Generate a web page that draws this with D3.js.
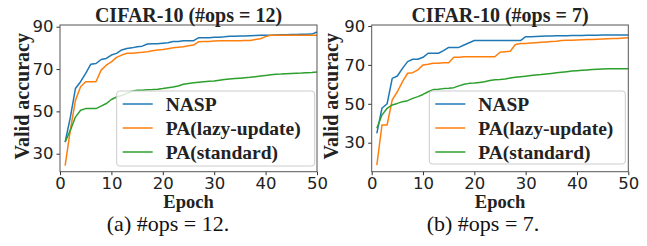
<!DOCTYPE html>
<html><head><meta charset="utf-8">
<script src="https://cdn.jsdelivr.net/npm/d3@7"></script>
<style>body{margin:0;background:#fff}svg{display:block}</style>
</head><body>
<svg id="c" width="647" height="246"></svg>
<script>
const epochs = d3.range(1, 51);
const seriesNames = ["NASP", "PA(lazy-update)", "PA(standard)"];
const colors = ["#1f77b4", "#ff7f0e", "#2ca02c"];
const xTicks = [0, 10, 20, 30, 40, 50];
const yTicks = [30, 50, 70, 90];

const titles = ["CIFAR-10 (#ops = 12)", "CIFAR-10 (#ops = 7)"];
const captions = ["(a) #ops = 12.", "(b) #ops = 7."];

// Panel (a) #ops = 12
const naspA = [35.5,47,60.8,64,68,72.3,72.6,74.5,75,76.6,77.4,79,79.7,80,80.5,80.8,81.8,82,82,82.2,82.4,83,83,83.4,83.4,83.4,84.8,84.8,84.8,85,85,85.2,85.5,85.5,85.6,85.6,85.7,85.8,85.9,86,86,86.1,86.2,86.2,86.3,86.3,86.4,86.4,86.5,87.5];
const lazyA = [24.4,41,55.2,61.6,64,64,64,69.5,71.8,73.4,75.5,76.6,77.4,77.4,77.7,77.9,78.2,78.6,79,79.2,79.6,80,80.3,80.5,81,81.3,82.9,83,83,83.2,83.4,83.4,83.4,83.4,83.4,83.5,83.5,84,84.3,85.3,86,86,86,86,86,86,86,86,86,86];
const stdA  = [35.5,41,47.3,50.5,51.3,51.3,51.3,52.5,53.7,55.6,56.8,57.5,58.5,59.5,60,60,60.2,60.3,60.5,60.8,61.2,61.5,62,62.8,63.2,63.5,63.8,64,64.2,64.4,64.7,65,65.3,65.5,65.7,65.9,66.1,66.4,66.7,67,67.3,67.5,67.6,67.8,67.9,68,68.1,68.3,68.4,68.6];

// Panel (b) #ops = 7
const naspB = [34.8,47.7,50,63.1,64.3,68.2,71.7,72.9,72.9,73.9,76,76,76,77.3,79,79,79,80.2,81.4,82.5,82.5,82.5,82.5,82.5,82.5,82.5,82.5,82.5,82.5,84.5,84.5,84.6,84.7,84.8,84.9,85,85,85,85.1,85.1,85.1,85.2,85.2,85.2,85.3,85.3,85.3,85.3,85.4,85.4];
const lazyB = [18.5,39.1,39.1,52,56.2,61.4,65.7,66,67.4,70,70.3,70.8,70.8,71.1,71.1,73.9,73.9,74.2,74.2,74.2,74.2,74.2,74.2,74.2,76.5,76.8,77,80.5,81,81,81.2,81.4,81.6,81.8,82,82.2,82.5,82.6,82.7,82.8,82.9,83,83.1,83.2,83.3,83.4,83.5,83.6,83.8,84];
const stdB  = [37.4,44.2,47.7,49.4,50.2,51.1,51.6,52.8,53.7,54.8,56.2,57.3,57.5,57.8,58,58.3,59.2,60,60.5,60.7,61,61.3,62,62.3,62.5,62.8,63.2,63.6,63.9,64.2,64.5,64.8,65,65.3,65.6,65.9,66.2,66.5,66.8,67,67.2,67.4,67.6,67.8,67.9,68,68,68,68,68];

const yDomains = [[21.5, 90.8], [15.1, 90.5]];
const panelData = [[naspA, lazyA, stdA], [naspB, lazyB, stdB]];

const svg = d3.select("#c");
const panels = [
  {x0: 60, x1: 317, yl: 21.7, leg: {x: 116.7, y: 91, w: 198, h: 75}, cap: 168},
  {x0: 371.7, x1: 628.3, yl: 331, leg: {x: 429.3, y: 91, w: 196, h: 73}, cap: 483}
];
const plotTop = 25, plotBottom = 171.7;
const serif = "'Liberation Serif','Times New Roman',serif";
const sans = "'DejaVu Sans',sans-serif";

panels.forEach((p, i) => {
  const x = d3.scaleLinear().domain([0, 50]).range([p.x0, p.x1]);
  const y = d3.scaleLinear().domain(yDomains[i]).range([plotBottom, plotTop]);
  const g = svg.append("g");

  const xa = g.append("g").attr("transform", `translate(0,${plotBottom})`)
    .call(d3.axisBottom(x).tickValues(xTicks).tickSize(3.5).tickPadding(2.5));
  const ya = g.append("g").attr("transform", `translate(${p.x0},0)`)
    .call(d3.axisLeft(y).tickValues(yTicks).tickSize(3.5).tickPadding(3));
  [xa, ya].forEach(a => {
    a.select(".domain").remove();
    a.selectAll("line").attr("stroke", "#333");
    a.selectAll("text").attr("font-family", sans).attr("font-size", 16.5).attr("fill", "#222");
  });

  const line = d3.line().x((d, j) => x(epochs[j])).y(d => y(d));
  panelData[i].forEach((s, k) => {
    g.append("path").datum(s).attr("d", line).attr("fill", "none")
      .attr("stroke", colors[k]).attr("stroke-width", 1.5).attr("stroke-linejoin", "round");
  });

  g.append("rect").attr("x", p.x0).attr("y", plotTop).attr("width", p.x1 - p.x0).attr("height", plotBottom - plotTop)
    .attr("fill", "none").attr("stroke", "#555").attr("stroke-width", 1);

  // legend
  const L = p.leg;
  const lg = g.append("g");
  lg.append("rect").attr("x", L.x).attr("y", L.y).attr("width", L.w).attr("height", L.h)
    .attr("rx", 3).attr("fill", "rgba(255,255,255,0.8)").attr("stroke", "#ccc");
  seriesNames.forEach((n, k) => {
    const cy = L.y + 13 + k * 24;
    lg.append("line").attr("x1", L.x + 6).attr("x2", L.x + 36).attr("y1", cy).attr("y2", cy)
      .attr("stroke", colors[k]).attr("stroke-width", 1.5);
    lg.append("text").attr("x", L.x + 49).attr("y", cy).attr("dy", "0.35em")
      .attr("font-family", serif).attr("font-weight", "bold").attr("font-size", 19.5).attr("fill", "#222").text(n);
  });

  const cx = (p.x0 + p.x1) / 2;
  g.append("text").attr("x", cx).attr("y", 21.5).attr("text-anchor", "middle")
    .attr("font-family", serif).attr("font-weight", "bold").attr("font-size", 20).attr("fill", "#222").text(titles[i]);
  g.append("text").attr("x", cx).attr("y", 207.5).attr("text-anchor", "middle")
    .attr("font-family", serif).attr("font-weight", "bold").attr("font-size", 18.5).attr("fill", "#222").text("Epoch");
  g.append("text").attr("transform", `translate(${p.yl},${(plotTop + plotBottom) / 2 - 2}) rotate(-90)`)
    .attr("text-anchor", "middle").attr("dy", "0.35em")
    .attr("font-family", serif).attr("font-weight", "bold").attr("font-size", 20).attr("fill", "#222").text("Valid accuracy");
  g.append("text").attr("x", p.cap).attr("y", 231).attr("text-anchor", "middle")
    .attr("font-family", serif).attr("font-size", 22).attr("fill", "#111").text(captions[i]);
});
</script>
</body></html>
